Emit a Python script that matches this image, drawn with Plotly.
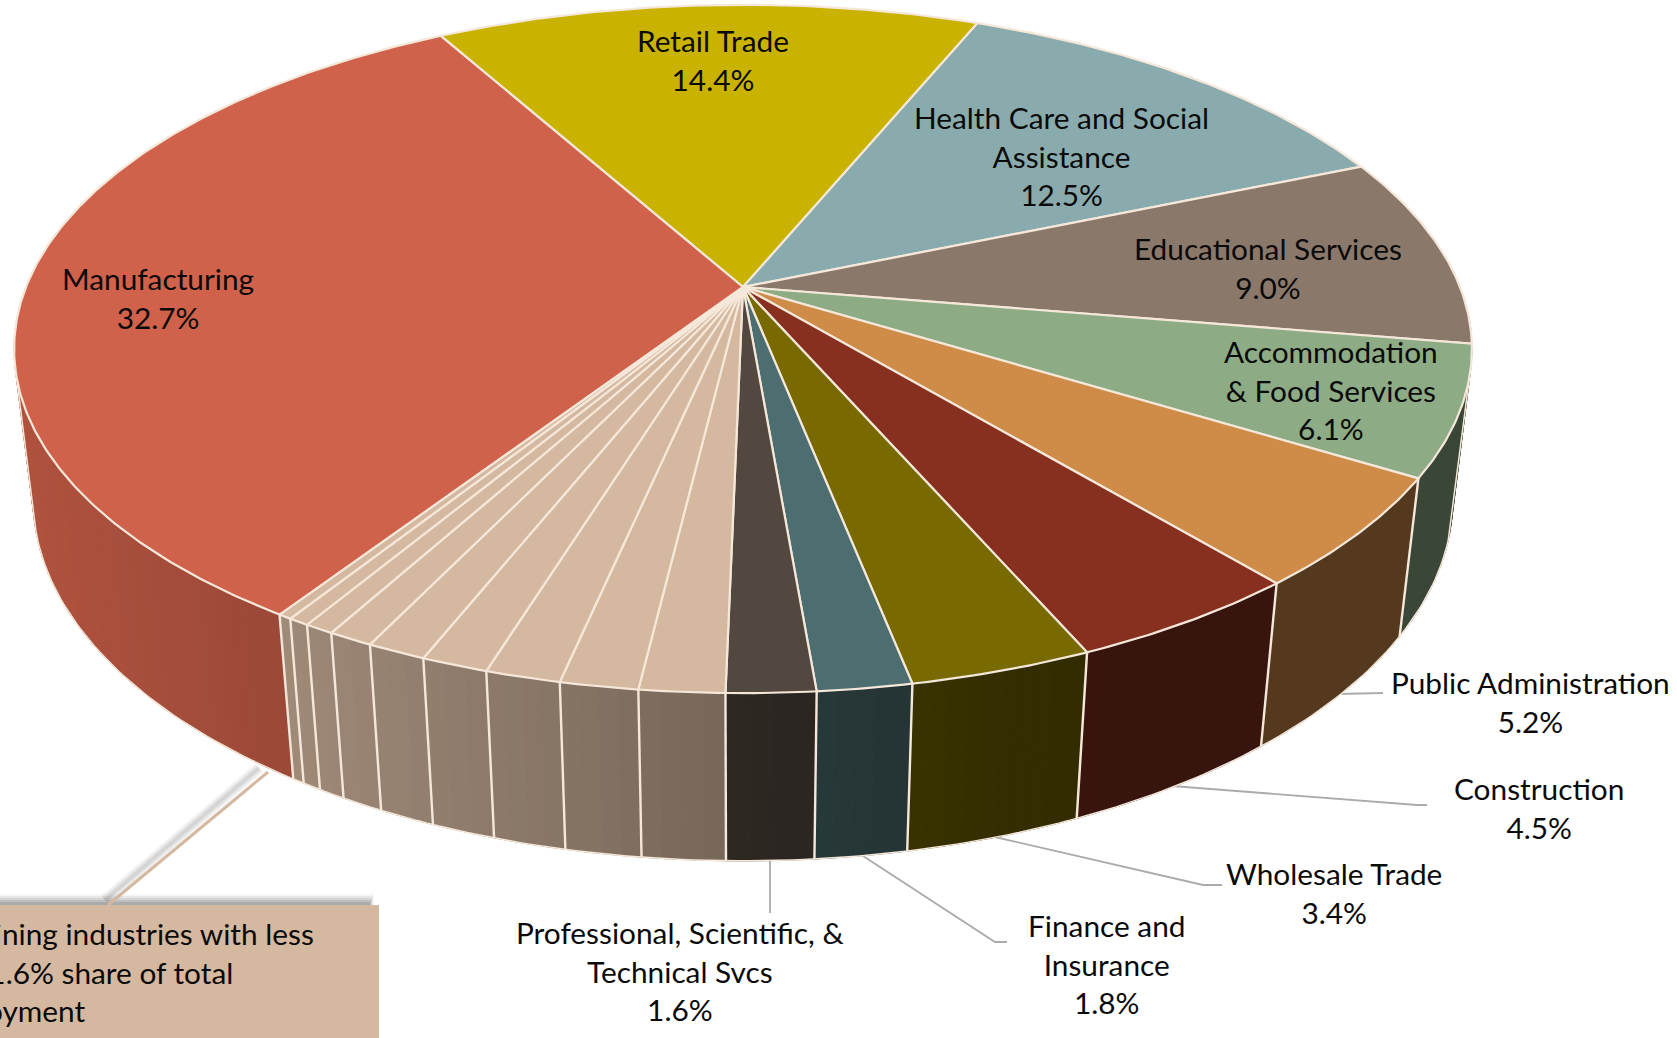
import numpy as np
import plotly.graph_objects as go

# ---- data (clockwise from the Retail Trade slice) ----
categories = ["Retail Trade", "Health Care and Social Assistance", "Educational Services",
              "Accommodation & Food Services", "Public Administration", "Construction",
              "Wholesale Trade", "Finance and Insurance", "Professional, Scientific, & Technical Svcs",
              "Other 1", "Other 2", "Other 3", "Other 4", "Other 5", "Other 6", "Other 7", "Other 8", "Other 9",
              "Manufacturing"]
shares = [14.4, 12.5, 9.0, 6.1, 5.22, 4.54, 3.46, 1.78, 1.67,
          1.6, 1.47, 1.42, 1.27, 1.13, 0.86, 0.56, 0.40, 0.26,
          32.77]
TAN = "#D5B8A0"
colors = ["#C9B200", "#8AABAD", "#8A786B", "#8DAC86", "#CF8C49", "#87301F", "#786A00", "#4D6E70", "#52483F",
          TAN, TAN, TAN, TAN, TAN, TAN, TAN, TAN, TAN,
          "#D0614A"]
EDGE = "#F5E8DA"

# ---- projection of the tilted disc ----
START = -29.2
CX, CY, RX, RY, K, D, M = 743, 287, 717, 333, 0.18, 152.5, 0.026

def project(theta_deg, z=0.0, r=1.0):
    t = np.radians(theta_deg)
    w = 1 + r * K * np.cos(t) + M * z
    return CX + RX * r * np.sin(t) / w, CY + (-RY * r * np.cos(t) + D * z) / w

def shade(x):
    return float(np.interp(x, [14, 281, 728, 850, 1000, 1100, 1480], [0.85, 0.75, 0.56, 0.5, 0.43, 0.41, 0.41]))

def scaled(hex_color, f):
    c = [int(hex_color[i:i + 2], 16) for i in (1, 3, 5)]
    return "rgb(%d,%d,%d)" % tuple(int(round(v * f)) for v in c)

total = sum(shares)
edges = START + np.concatenate([[0], np.cumsum(shares)]) / total * 360

fig = go.Figure()

# side wall, back to front
strips = []
for i, col in enumerate(colors):
    a, b = edges[i], edges[i + 1]
    n = max(2, int((b - a) / 1.2))
    th = np.linspace(a, b, n + 1)
    for j in range(n):
        mid = (th[j] + th[j + 1]) / 2
        if np.cos(np.radians(mid)) < 0.4:
            strips.append((th[j], th[j + 1], col))
strips.sort(key=lambda s: -np.cos(np.radians((s[0] + s[1]) / 2)))
for t0, t1, col in strips:
    tt = np.array([t0, t1])
    x0, y0 = project(tt, 0)
    x1, y1 = project(tt, 1)
    c = scaled(col, shade(float((x0.mean() + x1.mean()) / 2)))
    fig.add_trace(go.Scatter(x=[x0[0], x0[1], x1[1], x1[0], x0[0]], y=[y0[0], y0[1], y1[1], y1[0], y0[0]],
                             mode="lines", fill="toself", fillcolor=c, line=dict(color=c, width=1),
                             hoverinfo="skip", showlegend=False))

# lower rim and vertical seams on the visible part of the wall
TAN_L, TAN_R = 255, 105
rim = np.linspace(TAN_R, TAN_L, 200)
rx, ry = project(rim, 1)
rtx, rty = project(np.array([TAN_R, TAN_L]), 0)
fig.add_trace(go.Scatter(x=np.r_[rtx[0], rx, rtx[1]], y=np.r_[rty[0], ry, rty[1]], mode="lines",
                         line=dict(color=EDGE, width=1.5), hoverinfo="skip", showlegend=False))
for e in edges:
    if 105 < e % 360 < 250:
        x0, y0 = project(e, 0)
        x1, y1 = project(e, 1)
        fig.add_trace(go.Scatter(x=[x0, x1], y=[y0, y1], mode="lines", line=dict(color=EDGE, width=2.4),
                                 hoverinfo="skip", showlegend=False))

# top face
for i, col in enumerate(colors):
    th = np.linspace(edges[i], edges[i + 1], max(3, int((edges[i + 1] - edges[i]) * 2)))
    x, y = project(th, 0)
    fig.add_trace(go.Scatter(x=np.r_[CX, x, CX], y=np.r_[CY, y, CY], mode="lines", fill="toself", fillcolor=col,
                             line=dict(color=EDGE, width=2.2), name=categories[i], hoverinfo="skip", showlegend=False))

# ---- labels ----
FONT = dict(family="Lato", size=29.8, color="#0a0a0a")
labels = [
    ("Retail Trade<br>14.4%", 713, 60),
    ("Health Care and Social<br>Assistance<br>12.5%", 1061, 156),
    ("Educational Services<br>9.0%", 1268, 268),
    ("Accommodation<br>& Food Services<br>6.1%", 1331, 390),
    ("Manufacturing<br>32.7%", 158, 298),
    ("Public Administration<br>5.2%", 1530, 702),
    ("Construction<br>4.5%", 1539, 808),
    ("Wholesale Trade<br>3.4%", 1334, 893),
    ("Finance and<br>Insurance<br>1.8%", 1106, 964),
    ("Professional, Scientific, &<br>Technical Svcs<br>1.6%", 680, 971),
]
annotations = [dict(x=x, y=y, text=t, showarrow=False, font=FONT, xanchor="center", yanchor="middle", align="center")
               for t, x, y in labels]
annotations.append(dict(x=313, y=972, text="Remaining industries with less<br>than 1.6% share of total<br>employment",
                        showarrow=False, font=FONT, xanchor="right", yanchor="middle", align="left", xshift=3))

# ---- leaders and call-out ----
GREY = "#ABABAB"
def path(pts):
    return "M " + " L ".join(f"{a},{b}" for a, b in pts)
leaders = [
    [(1337, 694), (1383, 693)],
    [(1172, 786), (1417, 805), (1427, 805)],
    [(995, 837), (1203, 885), (1222, 885)],
    [(860, 854), (995, 942), (1007, 942)],
    [(770, 859), (770, 913)],
]
shapes = [dict(type="path", path=path(p), line=dict(color=GREY, width=1.8), layer="below") for p in leaders]
for w, op in [(12, 0.06), (9, 0.08), (6, 0.10), (3, 0.12)]:
    shapes.append(dict(type="path", path=path([(259, 768), (105, 900)]), line=dict(color="#808080", width=w),
                       opacity=op, layer="below"))
for inset, op in [(0, 0.06), (2, 0.10), (4, 0.14), (6, 0.18), (8, 0.22)]:
    shapes.append(dict(type="rect", x0=-5, x1=374 - inset / 2, y0=894 + inset, y1=910, fillcolor="#666666",
                       line_width=0, opacity=op, layer="below"))
shapes.append(dict(type="path", path=path([(268, 772), (108, 905)]), line=dict(color=TAN, width=3), layer="below"))
shapes.append(dict(type="rect", x0=-5, x1=379, y0=905, y1=1045, fillcolor=TAN, line_width=0, layer="below"))

fig.update_layout(
    width=1677, height=1038, margin=dict(l=0, r=0, t=0, b=0),
    paper_bgcolor="white", plot_bgcolor="white", showlegend=False,
    xaxis=dict(range=[0, 1677], visible=False, fixedrange=True),
    yaxis=dict(range=[1038, 0], visible=False, fixedrange=True),
    annotations=annotations, shapes=shapes,
)
fig.write_html("out.html", config=dict(displayModeBar=False),
               post_script="document.body.style.margin='0';document.body.style.overflow='hidden';")
